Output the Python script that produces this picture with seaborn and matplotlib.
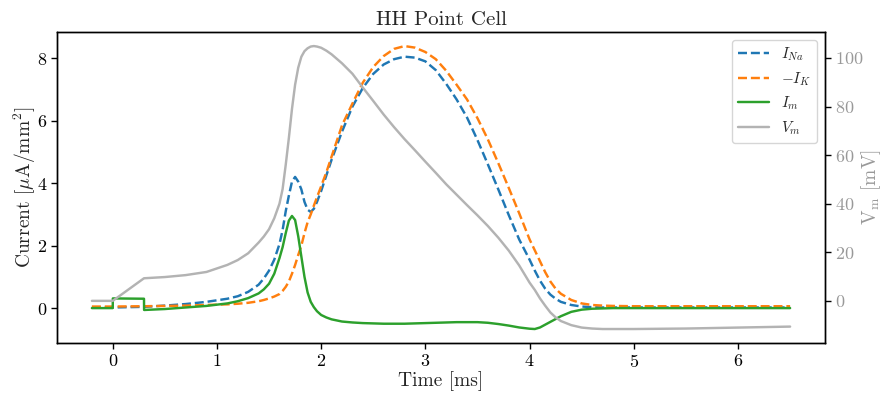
import matplotlib
matplotlib.use("Agg")
import matplotlib.pyplot as plt
import seaborn as sns
import pandas as pd

# ---------------- data ----------------
time_ms = [-0.2, 0.0, 0.001, 0.3, 0.301, 0.5, 0.7, 0.9, 1.1, 1.2, 1.3, 1.4, 1.45,
           1.5, 1.55, 1.6, 1.63, 1.66, 1.69, 1.72, 1.75, 1.78, 1.81, 1.84, 1.87,
           1.90, 1.93, 1.96, 2.0, 2.05, 2.1, 2.2, 2.3, 2.4, 2.5, 2.6, 2.7, 2.8,
           2.9, 3.0, 3.1, 3.2, 3.3, 3.4, 3.5, 3.6, 3.7, 3.8, 3.9, 4.0, 4.05, 4.1,
           4.15, 4.2, 4.25, 4.3, 4.4, 4.5, 4.6, 4.7, 4.8, 5.0, 5.5, 6.0, 6.5]

i_na = [0.02, 0.02, 0.02, 0.04, 0.04, 0.08, 0.13, 0.20, 0.30, 0.38, 0.52, 0.75, 0.95,
        1.20, 1.55, 2.05, 2.50, 3.10, 3.60, 4.05, 4.20, 4.05, 3.80, 3.40, 3.15,
        3.08, 3.18, 3.40, 3.75, 4.25, 4.75, 5.65, 6.45, 7.05, 7.50, 7.80, 7.97, 8.05,
        8.02, 7.90, 7.62, 7.18, 6.68, 6.10, 5.38, 4.60, 3.80, 2.98, 2.20, 1.55, 1.20, 0.88,
        0.62, 0.43, 0.30, 0.20, 0.10, 0.05, 0.03, 0.02, 0.02, 0.02, 0.02, 0.02, 0.02]

minus_i_k = [0.05, 0.05, 0.05, 0.06, 0.06, 0.07, 0.08, 0.10, 0.12, 0.14, 0.17, 0.22, 0.26,
             0.31, 0.37, 0.45, 0.55, 0.68, 0.85, 1.10, 1.38, 1.70, 2.00, 2.40, 2.75,
             3.00, 3.28, 3.55, 3.90, 4.35, 4.85, 5.85, 6.55, 7.22, 7.72, 8.07, 8.30, 8.39,
             8.34, 8.20, 7.97, 7.60, 7.15, 6.68, 6.08, 5.40, 4.64, 3.85, 3.04, 2.20, 1.85, 1.50,
             1.15, 0.85, 0.62, 0.46, 0.26, 0.15, 0.10, 0.08, 0.07, 0.06, 0.06, 0.06, 0.06]

i_m = [0.0, 0.0, 0.31, 0.30, -0.06, -0.03, 0.02, 0.07, 0.15, 0.22, 0.32, 0.47, 0.60,
       0.78, 1.10, 1.60, 1.95, 2.40, 2.80, 2.95, 2.82, 2.30, 1.65, 1.00, 0.50,
       0.20, 0.03, -0.10, -0.22, -0.30, -0.36, -0.43, -0.46, -0.48, -0.49, -0.50, -0.50, -0.50,
       -0.49, -0.48, -0.47, -0.46, -0.45, -0.45, -0.45, -0.47, -0.51, -0.56, -0.62, -0.66, -0.67, -0.62,
       -0.53, -0.44, -0.35, -0.26, -0.12, -0.05, -0.02, -0.01, 0.0, 0.0, 0.0, 0.0, 0.0]

v_m = [0.0, 0.0, 0.03, 9.3, 9.3, 9.8, 10.6, 11.9, 14.8, 16.8, 19.6, 24.0, 26.5,
       29.5, 34.0, 40.0, 46.0, 56.0, 67.0, 79.0, 89.0, 96.0, 100.5, 102.8, 104.0,
       104.7, 104.9, 104.7, 104.2, 103.0, 101.5, 97.8, 93.5, 87.8, 82.3, 76.7, 71.5, 66.6,
       62.0, 57.3, 52.7, 48.0, 43.7, 39.4, 35.2, 30.8, 26.0, 20.7, 14.6, 7.5, 4.5, 1.0,
       -2.0, -4.8, -6.8, -8.3, -10.0, -11.0, -11.4, -11.6, -11.6, -11.6, -11.4, -11.0, -10.6]

title = "HH Point Cell"
xlabel = "Time [ms]"
ylabel_left = r"Current [$\mu\mathrm{A/mm}^2$]"
ylabel_right = r"$\mathrm{V_m}$ [mV]"
labels = [r"$I_{Na}$", r"$-I_K$", r"$I_m$", r"$V_m$"]

# ---------------- styling ----------------
sns.set_style("ticks")
plt.rcParams["font.family"] = ["cmr10", "DejaVu Serif"]
plt.rcParams["mathtext.fontset"] = "cm"
plt.rcParams["axes.formatter.use_mathtext"] = True
plt.rcParams["axes.unicode_minus"] = False
plt.rcParams["axes.edgecolor"] = "black"
plt.rcParams["axes.linewidth"] = 1.0
plt.rcParams["xtick.color"] = "black"
plt.rcParams["ytick.color"] = "black"

df = pd.DataFrame({"t": time_ms, "ina": i_na, "ik": minus_i_k, "im": i_m, "vm": v_m})

fig = plt.figure(figsize=(8.82, 3.94), dpi=100)
ax = fig.add_axes([0.0646, 0.129, 0.8708, 0.790])
ax2 = ax.twinx()

lw = 1.75
sns.lineplot(data=df, x="t", y="ina", ax=ax, color="#1f77b4", linestyle="--",
             linewidth=lw, label=labels[0], estimator=None, sort=False)
sns.lineplot(data=df, x="t", y="ik", ax=ax, color="#ff7f0e", linestyle="--",
             linewidth=lw, label=labels[1], estimator=None, sort=False)
sns.lineplot(data=df, x="t", y="im", ax=ax, color="#2ca02c", linestyle="-",
             linewidth=lw, label=labels[2], estimator=None, sort=False)
sns.lineplot(data=df, x="t", y="vm", ax=ax2, color="#b3b3b3", linestyle="-",
             linewidth=lw, label=labels[3], estimator=None, sort=False)

for a in (ax, ax2):
    lg = a.get_legend()
    if lg is not None:
        lg.remove()

ax.set_xticks([0, 1, 2, 3, 4, 5, 6])
ax.set_yticks([0, 2, 4, 6, 8])
ax2.set_yticks([0, 20, 40, 60, 80, 100])

ax.set_title(title, fontsize=15, pad=5)
ax.set_xlabel(xlabel, fontsize=14, labelpad=1)
ax.set_ylabel(ylabel_left, fontsize=14, labelpad=-1)
ax2.set_ylabel(ylabel_right, fontsize=14, color="#999999", labelpad=-3)
ax.tick_params(labelsize=13, direction="out", length=4, width=1, pad=3)
ax2.tick_params(labelsize=13, direction="out", length=4, width=1, pad=3,
                labelcolor="#999999")
for s in ax2.spines.values():
    s.set_visible(True)
    s.set_color("black")
for s in ax.spines.values():
    s.set_visible(True)

h1, l1 = ax.get_legend_handles_labels()
h2, l2 = ax2.get_legend_handles_labels()
ax2.legend(h1 + h2, l1 + l2, loc="upper right", fontsize=11, framealpha=0.8,
           labelspacing=0.45)

fig.savefig("out.png", dpi=100)
